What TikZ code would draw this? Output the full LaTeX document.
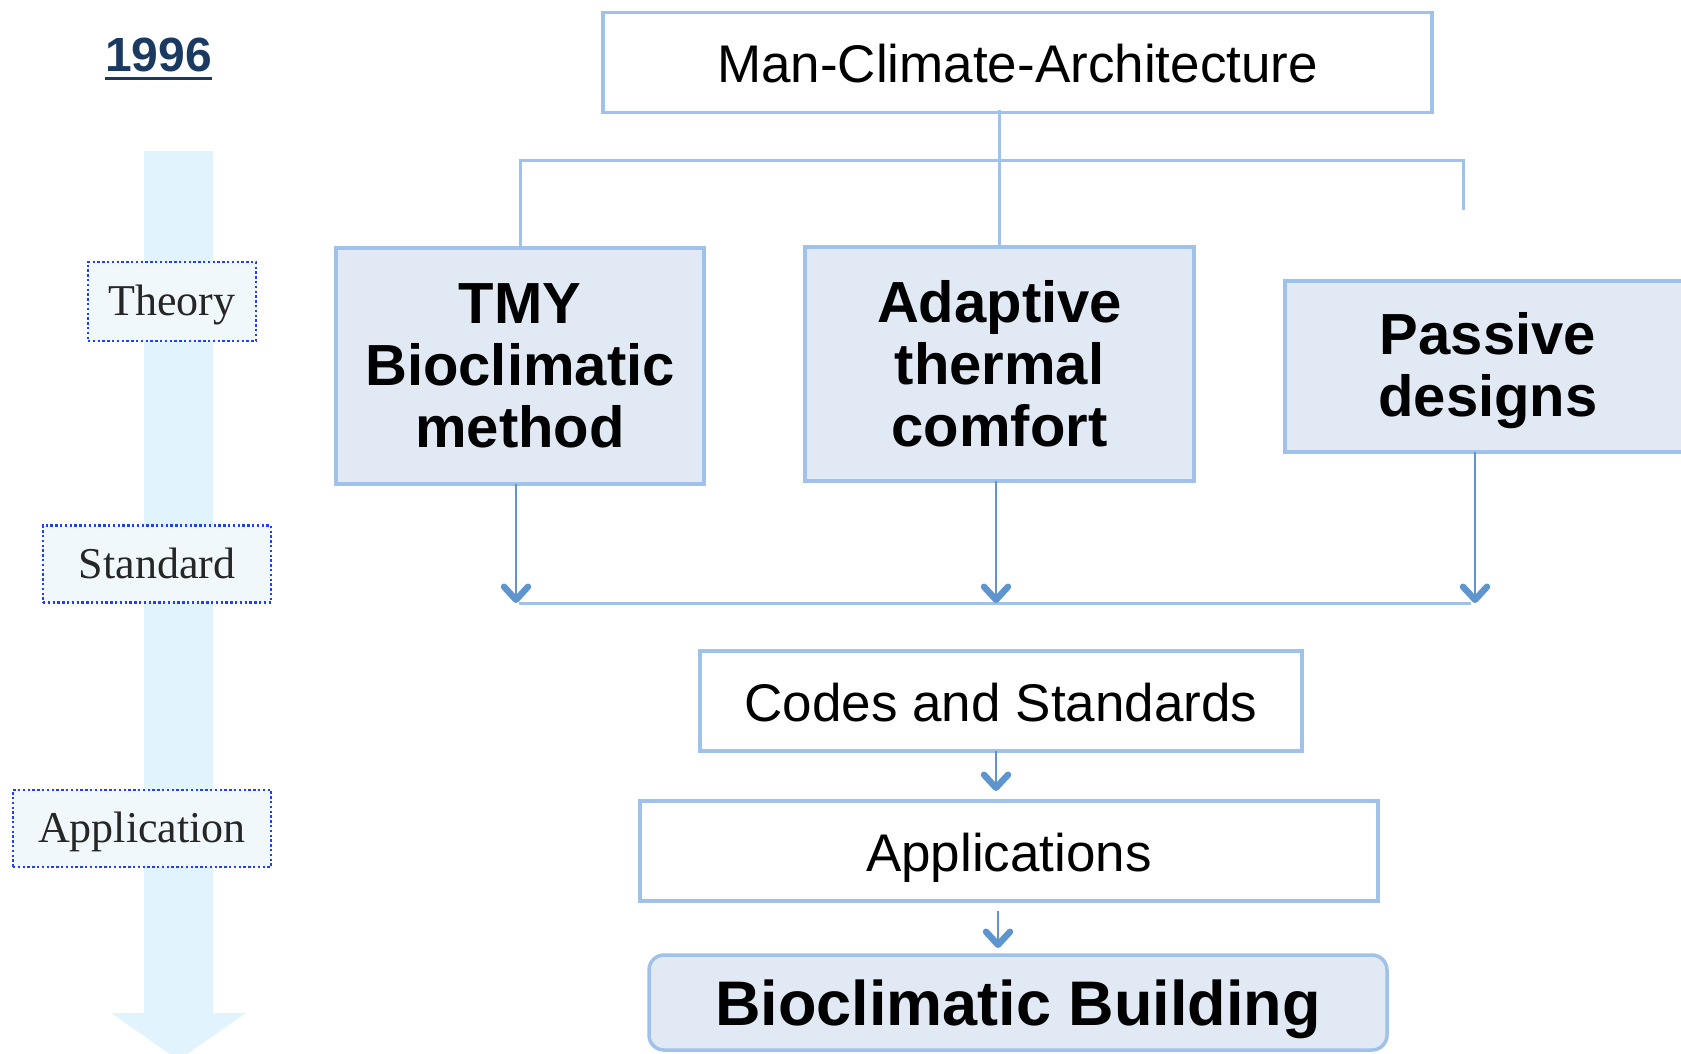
\documentclass[tikz,border=0pt]{standalone}
\usepackage{fontspec}
\setmainfont{Liberation Sans}
\newfontfamily\labelserif{Liberation Serif}
\usetikzlibrary{arrows.meta}

\definecolor{boxline}{HTML}{A0C2EA}
\definecolor{boxfill}{HTML}{E1E9F4}
\definecolor{arrowcol}{HTML}{5E95CE}
\definecolor{timeline}{HTML}{E1F3FD}
\definecolor{tagfill}{HTML}{F1F8FB}
\definecolor{tagline}{HTML}{1F3FFF}
\definecolor{yearcol}{HTML}{1B3A62}
\definecolor{tagtext}{HTML}{262626}

\tikzset{
  plainbox/.style={draw=boxline, line width=3.5pt, fill=white, inner sep=0pt, outer sep=0pt,
    text height=40pt, text depth=0pt, font=\fontsize{53}{58}\selectfont},
  bigbox/.style={draw=boxline, line width=3.5pt, fill=boxfill, inner sep=0pt, outer sep=0pt,
    align=center, font=\fontsize{58}{62}\selectfont\bfseries},
  bigtext/.style={inner sep=0pt, align=center, font=\fontsize{58}{62}\selectfont\bfseries},
  tag/.style={draw=tagline, fill=tagfill, line width=2.6pt, dash pattern=on 2.4pt off 2.4pt,
    inner sep=0pt, outer sep=0pt, text=tagtext, text height=38pt, text depth=10pt,
    font=\labelserif\fontsize{44}{48}\selectfont},
  conn/.style={draw=boxline, line width=3pt},
  arr/.style={draw=arrowcol, line width=2pt,
    -{Straight Barb[length=13pt,width=24pt,line width=6.5pt,round]}},
}

\begin{document}
\begin{tikzpicture}[x=1pt,y=-1pt]
\useasboundingbox (0,0) rectangle (1681,1053);

% time line arrow on the left
\fill[timeline] (144,151) -- (213,151) -- (213,1013) -- (246,1013) -- (178.5,1060)
  -- (111,1013) -- (144,1013) -- cycle;

% year heading
\node[anchor=base, inner sep=0pt, text=yearcol, font=\fontsize{48}{52}\selectfont\bfseries]
  (year) at (158.5,71) {1996};
\draw[yearcol, line width=3pt] ([yshift=-7pt]year.base west) -- ([yshift=-7pt]year.base east);

% stage tags
\node[tag, minimum width=168pt, minimum height=79pt] (theory) at (172,301.5) {Theory};
\node[tag, minimum width=228pt, minimum height=77pt] (standard) at (157,564) {Standard};
\node[tag, minimum width=258pt, minimum height=77pt] (application) at (142,828.5) {Application};

% main boxes
\node[plainbox, minimum width=829pt, minimum height=100pt] (mca) at (1017.5,62.5) {Man-Climate-Architecture};
\node[bigbox, minimum width=368pt, minimum height=236pt] (tmy) at (520,366) {TMY\\Bioclimatic\\method};
\node[bigbox, minimum width=389pt, minimum height=234pt] (adapt) at (999.5,364) {Adaptive\\thermal\\comfort};
\node[bigbox, minimum width=406pt, minimum height=171pt] (passive) at (1488,366.5) {};
\node[bigtext] (passivetext) at ([yshift=-4.5pt]passive.center) {Passive\\designs};
\node[plainbox, minimum width=602pt, minimum height=100pt] (codes) at (1001,701) {Codes and Standards};
\node[plainbox, minimum width=738pt, minimum height=100pt] (apps) at (1009,851) {Applications};
\node[bigbox, rounded corners=15pt, minimum width=738pt, minimum height=95pt,
  text height=60pt, text depth=13.3pt,
  font=\fontsize{63}{66}\selectfont\bfseries] (bb) at (1018,1002.5) {Bioclimatic Building};

% branching from the top box
\coordinate (hubL) at (519,160);
\coordinate (hubR) at (1463,160);
\coordinate (endR) at (1463,210);
\draw[conn] ([yshift=3pt]mca.south -| adapt.north) -- (adapt.north);
\draw[conn] (tmy.north) -- (tmy.north |- hubL) -- (hubR) -- (endR);

% collecting bar
\coordinate (barL) at (519,603);
\coordinate (barR) at (1471,603);
\draw[conn] (barL) -- (barR);
\draw[arr] ([xshift=-4pt]tmy.south) -- ([xshift=-4pt]tmy.south |- barL);
\draw[arr] ([xshift=-3.5pt]adapt.south) -- ([xshift=-3.5pt]adapt.south |- barL);
\draw[arr] ([xshift=-13pt]passive.south) -- ([xshift=-13pt]passive.south |- barL);

% lower chain
\draw[arr, shorten >=10pt] ([xshift=-5pt]codes.south) -- ([xshift=-5pt]codes.south |- apps.north);
\draw[arr, shorten <=10pt, shorten >=7pt] ([xshift=-11pt]apps.south) -- ([xshift=-11pt]apps.south |- bb.north);
\end{tikzpicture}
\end{document}
